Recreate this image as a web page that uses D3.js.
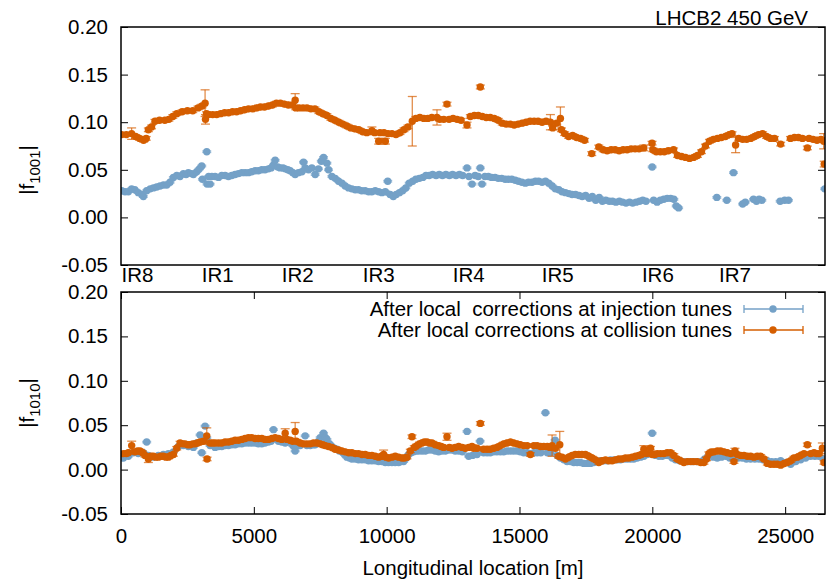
<!DOCTYPE html>
<html>
<head>
<meta charset="utf-8">
<title>LHCB2 coupling f1001 / f1010</title>
<script src="https://d3js.org/d3.v7.min.js"></script>
<style>
    body { margin: 0; background: #fff; }
    svg text { font-family: "Liberation Sans", Arial, Helvetica, sans-serif; font-size: 20.5px; fill: #000; }
    .axis path { display: none; }
    .axis line { stroke: #000; stroke-width: 1; }
    .frame { fill: none; stroke: #000; stroke-width: 1.5; }
</style>
</head>
<body>
<svg width="827" height="583"></svg>
<script>
    // [s (m), |f|, optional error]
    var f1001Col = [[25,0.087],[200,0.087],[400,0.088,0.006],[550,0.085],[700,0.083],[850,0.081],[950,0.083],[1030,0.092],[1150,0.095],[1280,0.101],[1450,0.102],[1650,0.102],[1800,0.103],[1950,0.106],[2100,0.109],[2300,0.111],[2500,0.112],[2700,0.112],[2900,0.115],[3050,0.117],[3165,0.120,0.014],[3180,0.103,0.005],[3220,0.109],[3300,0.108],[3450,0.108],[3600,0.108],[3750,0.109],[3900,0.110],[4050,0.110],[4200,0.111],[4350,0.111],[4500,0.112],[4650,0.113],[4800,0.114],[4950,0.114],[5100,0.115],[5250,0.116],[5400,0.116],[5550,0.117],[5700,0.118],[5850,0.120],[6000,0.120],[6150,0.119],[6300,0.118],[6450,0.118],[6556,0.123,0.007],[6580,0.115],[6700,0.115],[6850,0.115],[7000,0.115],[7150,0.114],[7300,0.114],[7450,0.111],[7600,0.109],[7750,0.107],[7900,0.104],[8050,0.102],[8200,0.100],[8350,0.098],[8500,0.096],[8650,0.094],[8800,0.093],[8950,0.092],[9100,0.090],[9250,0.089],[9445,0.091,0.004],[9550,0.089],[9700,0.080,0.003],[9750,0.089],[9900,0.089],[9950,0.080,0.003],[10050,0.088],[10200,0.088],[10350,0.087],[10500,0.089],[10650,0.092],[10800,0.095],[10965,0.101,0.026],[11100,0.104],[11250,0.105],[11400,0.104],[11550,0.104],[11700,0.105],[11894,0.105,0.008],[12000,0.103],[12150,0.103],[12270,0.119,0.002],[12350,0.103],[12500,0.104],[12650,0.103],[12800,0.102],[13024,0.097,0.003],[13150,0.106],[13300,0.107],[13450,0.107],[13526,0.137,0.002],[13600,0.106],[13750,0.105],[13900,0.105],[14050,0.104],[14200,0.102],[14350,0.099],[14500,0.098],[14650,0.098],[14800,0.097],[14950,0.098],[15100,0.099],[15250,0.100],[15400,0.101],[15550,0.101],[15700,0.101],[15850,0.100],[16000,0.101],[16164,0.100,0.008],[16250,0.094],[16400,0.099],[16541,0.104,0.012],[16580,0.092],[16700,0.088],[16850,0.085],[17000,0.086],[17150,0.084],[17300,0.083],[17450,0.081],[17720,0.067,0.002],[17985,0.074],[18150,0.071],[18300,0.070],[18450,0.071],[18600,0.071],[18750,0.070],[18900,0.071],[19050,0.071],[19200,0.072],[19350,0.072],[19500,0.072],[19680,0.073,0.003],[19990,0.078],[20020,0.071],[20150,0.069],[20300,0.069],[20450,0.069],[20600,0.070],[20800,0.071],[20950,0.065],[21100,0.064],[21250,0.063],[21400,0.062],[21550,0.063],[21700,0.065],[21850,0.069],[22000,0.075],[22150,0.080],[22300,0.082],[22450,0.083],[22600,0.084],[22750,0.085],[22900,0.087],[23000,0.088],[23135,0.076,0.008],[23250,0.083],[23400,0.082],[23550,0.082],[23700,0.083],[23850,0.085],[24000,0.087],[24150,0.088],[24300,0.085],[24450,0.083],[24600,0.083],[24830,0.077],[25200,0.083],[25350,0.084],[25500,0.084],[25650,0.083],[25836,0.073],[25900,0.083],[26050,0.082],[26200,0.081],[26350,0.082],[26450,0.080,0.008],[26470,0.056,0.003]];

    var f1001Inj = [[25,0.028],[150,0.027],[276,0.027],[400,0.030],[520,0.029],[653,0.026],[780,0.024],[842,0.022],[967,0.028],[1100,0.030],[1220,0.031],[1344,0.032],[1470,0.033],[1600,0.034],[1721,0.034],[1846,0.037],[1972,0.042],[2100,0.044],[2220,0.043],[2349,0.046],[2450,0.045],[2537,0.047],[2650,0.046],[2726,0.045],[2850,0.048],[2950,0.051],[3039,0.054],[3065,0.040],[3228,0.069],[3240,0.035],[3354,0.035],[3300,0.043],[3420,0.043],[3542,0.043],[3670,0.042],[3793,0.044],[3920,0.044],[4044,0.043],[4170,0.044],[4295,0.045],[4420,0.046],[4547,0.047],[4670,0.047],[4798,0.047],[4920,0.048],[5049,0.049],[5170,0.049],[5300,0.050],[5420,0.050],[5551,0.051],[5650,0.052],[5740,0.055],[5803,0.060],[5900,0.053],[5991,0.052],[6100,0.052],[6180,0.051],[6280,0.050],[6368,0.049],[6470,0.047],[6556,0.045],[6680,0.047],[6808,0.048],[6870,0.058],[6940,0.052],[7060,0.050],[7184,0.052],[7310,0.045],[7435,0.051],[7540,0.059],[7624,0.063],[7750,0.057],[7812,0.050],[7938,0.043],[8063,0.041],[8190,0.038],[8315,0.036],[8440,0.033],[8566,0.031],[8690,0.030],[8817,0.029],[8940,0.029],[9060,0.028],[9190,0.028],[9320,0.027],[9440,0.027],[9570,0.028],[9700,0.027],[9820,0.026],[9950,0.027],[10040,0.038],[10130,0.024],[10250,0.022],[10360,0.024],[10480,0.026],[10600,0.028],[10720,0.031],[10850,0.036],[10980,0.038],[11100,0.040],[11230,0.041],[11360,0.042],[11480,0.044],[11600,0.044],[11730,0.045],[11860,0.044],[11980,0.045],[12100,0.044],[12230,0.045],[12360,0.044],[12480,0.045],[12610,0.044],[12740,0.045],[12860,0.044],[13024,0.052],[13100,0.043],[13213,0.035],[13330,0.044],[13450,0.043],[13526,0.052],[13589,0.035],[13700,0.043],[13830,0.043],[13950,0.042],[14080,0.042],[14200,0.041],[14330,0.041],[14460,0.040],[14580,0.040],[14710,0.040],[14840,0.039],[14960,0.038],[15090,0.037],[15220,0.036],[15340,0.037],[15470,0.037],[15600,0.038],[15720,0.038],[15850,0.037],[15980,0.038],[16100,0.036],[16230,0.033],[16350,0.030],[16480,0.029],[16600,0.027],[16730,0.026],[16860,0.025],[16980,0.024],[17110,0.024],[17240,0.023],[17360,0.022],[17490,0.023],[17620,0.020],[17740,0.022],[17870,0.018],[18000,0.021],[18120,0.017],[18250,0.018],[18380,0.017],[18500,0.017],[18630,0.016],[18760,0.017],[18880,0.016],[19010,0.015],[19140,0.016],[19260,0.015],[19390,0.016],[19520,0.017],[19640,0.018],[19760,0.017],[19995,0.053],[20050,0.018],[20180,0.016],[20300,0.018],[20430,0.019],[20560,0.020],[20690,0.020],[20810,0.019],[20900,0.012],[20990,0.010],[22427,0.021],[22804,0.018],[23055,0.047],[23400,0.014],[23500,0.016],[23808,0.019],[23920,0.017],[24020,0.019],[24122,0.018],[24812,0.017],[24980,0.018],[25126,0.018],[26490,0.030]];

    var f1010Inj = [[88,0.013],[276,0.015],[465,0.019],[653,0.018],[842,0.019],[967,0.031],[1030,0.016],[1218,0.014],[1407,0.016],[1595,0.017],[1783,0.018],[1972,0.020],[2160,0.026],[2349,0.027],[2537,0.026],[2726,0.025],[2851,0.030],[2977,0.039],[3040,0.019],[3165,0.049],[3228,0.036],[3354,0.027],[3542,0.025],[3670,0.026],[3793,0.026],[3920,0.027],[4044,0.027],[4170,0.028],[4295,0.028],[4420,0.029],[4547,0.029],[4670,0.030],[4798,0.030],[4920,0.030],[5049,0.030],[5170,0.029],[5300,0.029],[5420,0.030],[5551,0.031],[5650,0.032],[5740,0.045],[5928,0.032],[6050,0.031],[6180,0.030],[6280,0.031],[6368,0.031],[6470,0.027],[6556,0.021],[6650,0.027],[6745,0.027],[6933,0.038],[7000,0.027],[7122,0.027],[7250,0.028],[7310,0.028],[7420,0.031],[7498,0.036],[7624,0.041],[7700,0.036],[7750,0.034],[7850,0.029],[7938,0.026],[8030,0.024],[8126,0.023],[8220,0.021],[8315,0.020],[8410,0.017],[8503,0.014],[8600,0.013],[8692,0.012],[8820,0.012],[8943,0.011],[9070,0.011],[9194,0.011],[9320,0.010],[9445,0.010],[9570,0.010],[9696,0.009],[9820,0.009],[9948,0.008],[10070,0.008],[10199,0.008],[10320,0.008],[10450,0.008],[10550,0.009],[10638,0.009],[10740,0.013],[10827,0.017],[10920,0.019],[11015,0.020],[11110,0.021],[11204,0.021],[11330,0.021],[11455,0.021],[11580,0.022],[11706,0.022],[11830,0.021],[11957,0.020],[12080,0.021],[12208,0.021],[12330,0.022],[12460,0.022],[12580,0.021],[12711,0.021],[12850,0.020],[13025,0.043],[13088,0.015],[13230,0.016],[13400,0.017],[13517,0.032],[13650,0.019],[13780,0.019],[13900,0.019],[14030,0.020],[14150,0.020],[14280,0.020],[14406,0.020],[14530,0.021],[14657,0.021],[14780,0.021],[14908,0.021],[15030,0.020],[15160,0.019],[15290,0.019],[15411,0.018],[15540,0.019],[15662,0.019],[15800,0.019],[15976,0.064],[16050,0.019],[16164,0.019],[16340,0.033],[16420,0.016],[16541,0.013],[16670,0.011],[16792,0.009],[16920,0.009],[17044,0.008],[17170,0.008],[17295,0.008],[17420,0.007],[17546,0.007],[17670,0.007],[17797,0.008],[17920,0.009],[18048,0.010],[18170,0.010],[18300,0.010],[18420,0.011],[18551,0.011],[18680,0.011],[18802,0.011],[18930,0.012],[19053,0.012],[19180,0.012],[19304,0.012],[19430,0.013],[19556,0.014],[19680,0.015],[19807,0.017],[19995,0.041],[20121,0.016],[20250,0.015],[20372,0.015],[20500,0.016],[20623,0.016],[20750,0.013],[20874,0.011],[21030,0.010],[21188,0.009],[21340,0.009],[21502,0.009],[21660,0.009],[21816,0.009],[21970,0.012],[22130,0.016],[22290,0.014],[22444,0.013],[22600,0.014],[22758,0.015],[22910,0.013],[23072,0.012],[23230,0.013],[23386,0.013],[23540,0.012],[23700,0.012],[23860,0.012],[24015,0.012],[24170,0.011],[24329,0.010],[24490,0.009],[24643,0.009],[24831,0.010],[25020,0.008],[25207,0.006],[25400,0.009],[25584,0.011],[25770,0.013],[25960,0.015],[26120,0.015],[26275,0.015],[26450,0.012]];

    var f1010Col = [[88,0.018],[200,0.018],[276,0.019],[402,0.027,0.005],[527,0.020],[620,0.021],[716,0.021],[810,0.019],[904,0.016],[1030,0.012,0.004],[1130,0.015],[1218,0.015],[1310,0.014],[1407,0.014],[1500,0.015],[1595,0.015],[1690,0.014],[1783,0.014],[1880,0.016],[1972,0.017],[2098,0.024],[2223,0.030],[2320,0.029],[2411,0.029],[2510,0.028],[2600,0.028],[2700,0.029],[2788,0.029],[2880,0.030],[2977,0.031],[3102,0.032],[3228,0.038,0.009],[3240,0.012,0.002],[3354,0.030],[3450,0.030],[3542,0.030],[3670,0.030],[3793,0.030],[3920,0.031],[4044,0.031],[4170,0.032],[4295,0.033],[4420,0.033],[4547,0.034],[4670,0.035],[4798,0.036],[4920,0.036],[5049,0.035],[5170,0.035],[5300,0.035],[5420,0.034],[5551,0.034],[5680,0.035],[5803,0.036],[5930,0.035],[6054,0.034],[6180,0.041,0.005],[6250,0.034],[6368,0.033],[6460,0.032],[6556,0.043,0.010],[6600,0.032],[6745,0.030],[6870,0.029],[6996,0.029],[7120,0.029],[7247,0.030],[7370,0.030],[7498,0.029],[7590,0.028],[7687,0.027],[7810,0.026],[7938,0.025],[8060,0.023],[8189,0.022],[8310,0.021],[8440,0.020],[8570,0.019],[8692,0.019],[8820,0.018],[8943,0.018],[9070,0.017],[9194,0.017],[9320,0.016],[9445,0.016],[9570,0.015],[9696,0.014],[9800,0.015],[9885,0.017,0.005],[9980,0.014],[10073,0.013],[10200,0.014],[10324,0.015],[10450,0.014],[10575,0.013],[10670,0.013],[10764,0.014],[10890,0.021],[10953,0.037,0.002],[11040,0.025],[11141,0.027],[11235,0.029],[11329,0.030],[11420,0.031],[11518,0.031],[11610,0.030],[11706,0.030],[11830,0.028],[11957,0.027],[12050,0.026],[12146,0.025],[12271,0.037,0.004],[12360,0.025],[12460,0.024],[12580,0.025],[12711,0.026],[12840,0.025],[12962,0.024],[13090,0.025],[13213,0.026],[13276,0.024],[13400,0.024],[13527,0.052,0.002],[13650,0.023],[13780,0.023],[13900,0.023],[14030,0.024],[14150,0.025],[14280,0.027],[14406,0.029],[14530,0.030],[14657,0.031],[14780,0.030],[14908,0.029],[15030,0.028],[15160,0.027],[15290,0.027],[15411,0.017],[15540,0.027],[15662,0.027],[15790,0.026],[15913,0.026],[16050,0.026],[16150,0.025],[16227,0.027,0.012],[16353,0.024],[16478,0.015],[16516,0.028,0.015],[16600,0.014],[16730,0.012],[16850,0.014],[16980,0.016],[17100,0.017],[17232,0.017],[17350,0.017],[17483,0.017],[17610,0.015],[17735,0.013],[17860,0.011],[17986,0.008],[18110,0.010],[18237,0.011],[18360,0.010],[18488,0.010],[18610,0.011],[18739,0.012],[18860,0.012],[18990,0.013],[19110,0.013],[19241,0.014],[19370,0.015],[19493,0.016],[19590,0.017],[19681,0.023,0.004],[19780,0.018],[19932,0.024,0.002],[19995,0.017],[20090,0.017],[20184,0.018],[20310,0.018],[20435,0.018],[20560,0.019],[20686,0.019],[20810,0.016],[20937,0.012],[21060,0.010],[21188,0.008],[21310,0.009],[21439,0.009],[21560,0.009],[21690,0.009],[21820,0.008],[21942,0.008],[22040,0.012],[22130,0.018],[22220,0.020],[22319,0.020],[22450,0.021],[22570,0.021],[22700,0.020],[22821,0.019],[22950,0.018],[23072,0.009],[23110,0.021,0.003],[23200,0.017],[23324,0.016],[23450,0.016],[23575,0.015],[23700,0.015],[23826,0.014],[23950,0.015],[24077,0.015],[24200,0.012],[24329,0.007],[24450,0.006],[24580,0.006],[24700,0.006],[24831,0.005],[24960,0.007],[25080,0.008],[25207,0.010],[25330,0.013],[25459,0.014],[25580,0.016],[25710,0.018],[25836,0.028],[25960,0.018],[26087,0.019],[26180,0.018],[26275,0.018],[26400,0.024,0.006],[26463,0.008]];

    var irNames = ["IR8", "IR1", "IR2", "IR3", "IR4", "IR5", "IR6", "IR7"];
    var irPositions = [0, 3020, 6030, 9080, 12470, 15820, 19590, 22490];
    var yTicks = [-0.05, 0, 0.05, 0.10, 0.15, 0.20];
    var xTicks = [0, 5000, 10000, 15000, 20000, 25000];
    var legendLabels = ["After local  corrections at injection tunes", "After local corrections at collision tunes"];

    var colErr = 0.0019, injErr = 0.0008;   // typical error when none is listed
    var blue = "#74a1c7", orange = "#d55e00";

    var svg = d3.select("svg");
    var x = d3.scaleLinear().domain([0, 26500]).range([121, 825]);
    var yTop = d3.scaleLinear().domain([-0.05, 0.2]).range([265, 27]);
    var yBot = d3.scaleLinear().domain([-0.05, 0.2]).range([514, 292]);

    function panel(y, id) {
        svg.append("clipPath").attr("id", id)
            .append("rect")
            .attr("x", x.range()[0]).attr("y", y.range()[1])
            .attr("width", x.range()[1] - x.range()[0])
            .attr("height", y.range()[0] - y.range()[1]);

        svg.append("g")
            .attr("class", "axis")
            .attr("transform", "translate(" + x.range()[0] + ",0)")
            .call(d3.axisLeft(y).tickValues(yTicks).tickSize(-7).tickPadding(13)
                .tickFormat(function(d) { return d.toFixed(2); }));
        svg.append("g")
            .attr("class", "axis")
            .attr("transform", "translate(" + x.range()[1] + ",0)")
            .call(d3.axisRight(y).tickValues(yTicks).tickSize(-7).tickFormat(""));
    }

    function drawSeries(y, clipId, data, color, defErr) {
        var g = svg.append("g").attr("clip-path", "url(#" + clipId + ")");
        var pts = g.selectAll("g").data(data).join("g");
        var err = function(d) { return d.length > 2 ? d[2] : defErr; };
        pts.append("line")
            .attr("x1", function(d) { return x(d[0]); })
            .attr("x2", function(d) { return x(d[0]); })
            .attr("y1", function(d) { return y(d[1] - err(d)); })
            .attr("y2", function(d) { return y(d[1] + err(d)); });
        pts.append("line")
            .attr("x1", function(d) { return x(d[0]) - 4.5; })
            .attr("x2", function(d) { return x(d[0]) + 4.5; })
            .attr("y1", function(d) { return y(d[1] - err(d)); })
            .attr("y2", function(d) { return y(d[1] - err(d)); });
        pts.append("line")
            .attr("x1", function(d) { return x(d[0]) - 4.5; })
            .attr("x2", function(d) { return x(d[0]) + 4.5; })
            .attr("y1", function(d) { return y(d[1] + err(d)); })
            .attr("y2", function(d) { return y(d[1] + err(d)); });
        pts.selectAll("line").attr("stroke", color).attr("stroke-width", 1.3).attr("stroke-opacity", 0.7);
        g.selectAll("circle").data(data).join("circle")
            .attr("cx", function(d) { return x(d[0]); })
            .attr("cy", function(d) { return y(d[1]); })
            .attr("r", 3.7)
            .attr("fill", color);
    }

    panel(yTop, "clipTop");
    panel(yBot, "clipBot");

    // x ticks only on the lower panel (bottom and mirrored top)
    svg.append("g")
        .attr("class", "axis")
        .attr("transform", "translate(0," + yBot.range()[0] + ")")
        .call(d3.axisBottom(x).tickValues(xTicks).tickSize(-7).tickPadding(14).tickFormat(d3.format("d")));
    svg.append("g")
        .attr("class", "axis")
        .attr("transform", "translate(0," + yBot.range()[1] + ")")
        .call(d3.axisTop(x).tickValues(xTicks).tickSize(-7).tickFormat(""));

    // IR labels under the upper panel
    var ir = svg.append("g")
        .attr("class", "axis")
        .attr("transform", "translate(0," + yTop.range()[0] + ")")
        .call(d3.axisBottom(x).tickValues(irPositions).tickSize(0).tickPadding(2)
            .tickFormat(function(d, i) { return irNames[i]; }));
    ir.selectAll("text").attr("text-anchor", "start");

    drawSeries(yTop, "clipTop", f1001Inj, blue, injErr);
    drawSeries(yTop, "clipTop", f1001Col, orange, colErr);
    drawSeries(yBot, "clipBot", f1010Inj, blue, injErr);
    drawSeries(yBot, "clipBot", f1010Col, orange, colErr);

    [yTop, yBot].forEach(function(y) {
        svg.append("rect").attr("class", "frame")
            .attr("x", x.range()[0]).attr("y", y.range()[1])
            .attr("width", x.range()[1] - x.range()[0])
            .attr("height", y.range()[0] - y.range()[1]);
    });

    svg.append("text")
        .attr("x", 808).attr("y", 25)
        .attr("text-anchor", "end")
        .text("LHCB2 450 GeV");

    // legend
    var leg = svg.append("g").selectAll("g")
        .data([[legendLabels[0], blue], [legendLabels[1], orange]])
        .join("g")
        .attr("transform", function(d, i) { return "translate(0," + (309 + i * 21) + ")"; });
    leg.append("text")
        .attr("x", 732).attr("y", 7)
        .attr("text-anchor", "end")
        .style("white-space", "pre")
        .text(function(d) { return d[0]; });
    leg.append("line").attr("x1", 744).attr("x2", 803).attr("y1", 0).attr("y2", 0);
    leg.append("line").attr("x1", 744).attr("x2", 744).attr("y1", -4).attr("y2", 4);
    leg.append("line").attr("x1", 803).attr("x2", 803).attr("y1", -4).attr("y2", 4);
    leg.selectAll("line").attr("stroke", function(d) { return d[1]; }).attr("stroke-width", 1.3);
    leg.append("circle").attr("cx", 773).attr("cy", 0).attr("r", 3.7)
        .attr("fill", function(d) { return d[1]; });

    // y labels with subscripts
    [["1001", 34, 170], ["1010", 34, 403]].forEach(function(l) {
        var t = svg.append("text")
            .attr("transform", "translate(" + l[1] + "," + l[2] + ") rotate(-90)")
            .attr("text-anchor", "middle");
        t.append("tspan").text("|f");
        t.append("tspan").attr("dy", 6).style("font-size", "15px").text(l[0]);
        t.append("tspan").attr("dy", -6).text("|");
    });

    svg.append("text")
        .attr("x", 473).attr("y", 575)
        .attr("text-anchor", "middle")
        .text("Longitudinal location [m]");
</script>
</body>
</html>
